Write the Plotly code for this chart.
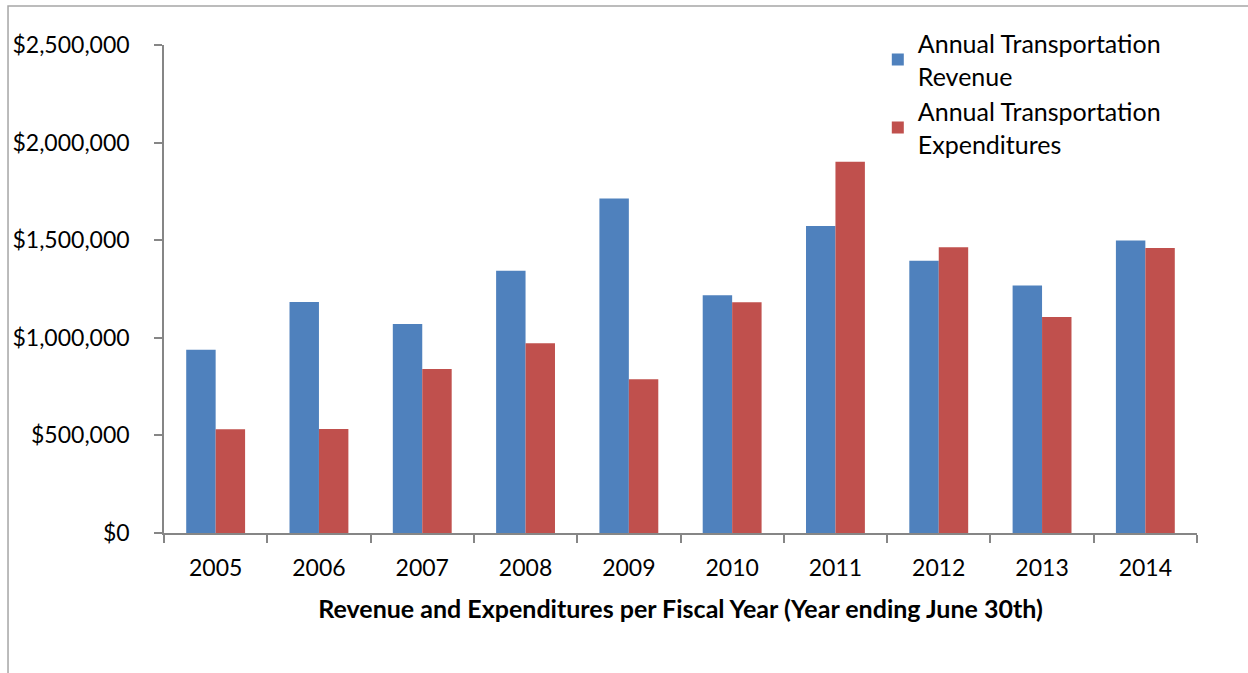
import plotly.graph_objects as go

# Fiscal years (year ending June 30th)
years = ["2005", "2006", "2007", "2008", "2009", "2010", "2011", "2012", "2013", "2014"]

revenue = [939000, 1183000, 1071000, 1344000, 1714000, 1218000, 1573000, 1395000, 1268000, 1499000]
expenditures = [531000, 533000, 840000, 972000, 788000, 1182000, 1902000, 1464000, 1106000, 1460000]

series_names = [
    "Annual Transportation<br>Revenue",
    "Annual Transportation<br>Expenditures",
]
series_colors = ["#4F81BD", "#C0504D"]

y_ticks = [0, 500000, 1000000, 1500000, 2000000, 2500000]

FONT = "Lato, 'Open Sans', sans-serif"
AXIS_GREY = "#868686"

fig = go.Figure()
for name, vals, col in zip(series_names, [revenue, expenditures], series_colors):
    fig.add_trace(go.Bar(
        x=years, y=vals, name=name,
        marker=dict(color=col, line=dict(width=0)),
    ))

# light grey frame around the chart area
fig.add_shape(
    type="rect", xref="paper", yref="paper",
    x0=-0.151, x1=1.2, y0=-0.5, y1=1.0798,
    line=dict(color="#A6A6A6", width=1.5), fillcolor="rgba(0,0,0,0)",
    layer="below",
)

fig.update_layout(
    width=1248, height=673,
    margin=dict(l=164, r=51, t=45, b=139.5),
    paper_bgcolor="white", plot_bgcolor="white",
    barmode="group", bargap=0.43, bargroupgap=0,
    font=dict(family=FONT, size=23, color="black"),
    showlegend=True,
    legend=dict(
        x=0.691, y=1.05, xanchor="left", yanchor="top",
        bgcolor="rgba(0,0,0,0)", font=dict(size=25),
        itemwidth=30,
    ),
    xaxis=dict(
        type="category", tickson="boundaries",
        ticks="outside", ticklen=8, tickcolor=AXIS_GREY, tickwidth=1.5,
        showline=True, linecolor=AXIS_GREY, linewidth=1.5,
        showgrid=False, tickfont=dict(size=23), ticklabelstandoff=14,
        title=dict(
            text="<b>Revenue and Expenditures per Fiscal Year (Year ending June 30th)</b>",
            font=dict(size=25), standoff=20,
        ),
    ),
    yaxis=dict(
        range=[0, 2500000], tickvals=y_ticks,
        tickformat="$,.0f",
        ticks="outside", ticklen=8, tickcolor=AXIS_GREY, tickwidth=1.5,
        showline=True, linecolor=AXIS_GREY, linewidth=1.5,
        showgrid=False, zeroline=False, tickfont=dict(size=23),
        ticklabelstandoff=20,
    ),
)

fig.write_html("out.html")
